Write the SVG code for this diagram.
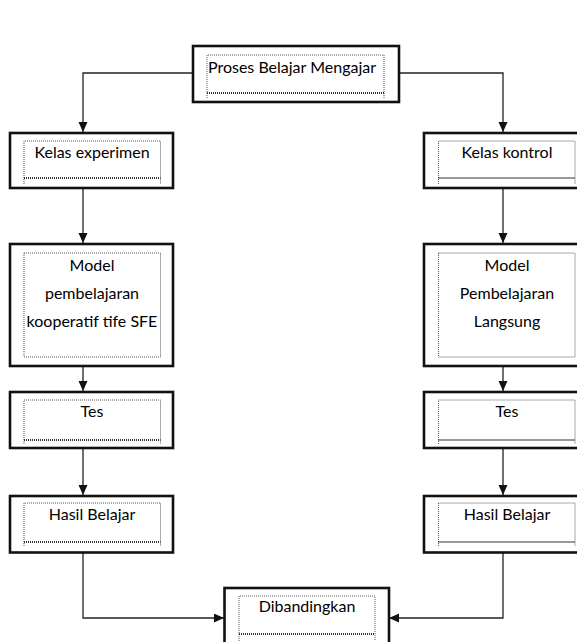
<svg xmlns="http://www.w3.org/2000/svg" width="577" height="642" viewBox="0 0 577 642">
<defs>
<marker id="arr" markerUnits="userSpaceOnUse" markerWidth="10" markerHeight="11" refX="10" refY="4.5" orient="auto">
<path d="M0,0 L10,4.5 L0,9 Z" fill="#111"/>
</marker>
<style>
.box{fill:#fff;stroke:#111;stroke-width:2.6}
.in{fill:none;stroke:#555;stroke-width:1;stroke-dasharray:1,1}
.inb{fill:none;stroke:#333;stroke-width:2;stroke-dasharray:1,1}
.t{font-family:Lato,"Liberation Sans",sans-serif;font-size:16px;fill:#000;text-anchor:middle}
.c{fill:none;stroke:#222;stroke-width:1.3}
</style>
</defs>
<rect width="577" height="642" fill="#fff"/>
<g id="connectors">
<path class="c" d="M193,73 H83 V132" marker-end="url(#arr)"/>
<path class="c" d="M399,73 H503 V132" marker-end="url(#arr)"/>
<path class="c" d="M83,188 V243" marker-end="url(#arr)"/>
<path class="c" d="M503,188 V243" marker-end="url(#arr)"/>
<path class="c" d="M83,366 V391" marker-end="url(#arr)"/>
<path class="c" d="M503,366 V391" marker-end="url(#arr)"/>
<path class="c" d="M83,448 V495" marker-end="url(#arr)"/>
<path class="c" d="M503,448 V495" marker-end="url(#arr)"/>
<path class="c" d="M83,553 V618 H224" marker-end="url(#arr)"/>
<path class="c" d="M503,553 V618 H389" marker-end="url(#arr)"/>
</g>
<g id="proses">
<rect class="box" x="193" y="46" width="206" height="56"/>
<path class="in" d="M207,98 V55 H384 V98"/>
<line class="inb" x1="207" y1="93" x2="384" y2="93"/>
<text class="t" x="292" y="73">Proses Belajar Mengajar</text>
</g>
<g id="kelas-experimen">
<rect class="box" x="10" y="133" width="163" height="55"/>
<path class="in" d="M24,184 V141 H160.5 V184"/>
<line class="inb" x1="24" y1="178" x2="160.5" y2="178"/>
<text class="t" x="92" y="158">Kelas experimen</text>
</g>
<g id="kelas-kontrol">
<rect class="box" x="424" y="133" width="163" height="55"/>
<path class="in" d="M438.5,184 V141 H575 V184"/>
<line class="inb" x1="438.5" y1="178" x2="575" y2="178"/>
<text class="t" x="507" y="158">Kelas kontrol</text>
</g>
<g id="model-kooperatif">
<rect class="box" x="10" y="244" width="163" height="122"/>
<rect class="in" x="24" y="253" width="136.5" height="104"/>
<text class="t" x="92" y="271">Model</text>
<text class="t" x="92" y="299">pembelajaran</text>
<text class="t" x="92" y="327">kooperatif tife SFE</text>
</g>
<g id="model-langsung">
<rect class="box" x="424" y="244" width="163" height="122"/>
<rect class="in" x="438.5" y="253" width="136.5" height="104"/>
<text class="t" x="507" y="271">Model</text>
<text class="t" x="507" y="299">Pembelajaran</text>
<text class="t" x="507" y="327">Langsung</text>
</g>
<g id="tes-kiri">
<rect class="box" x="10" y="392" width="163" height="56"/>
<path class="in" d="M24,444 V400 H160.5 V444"/>
<line class="inb" x1="24" y1="440" x2="160.5" y2="440"/>
<text class="t" x="92" y="417">Tes</text>
</g>
<g id="tes-kanan">
<rect class="box" x="424" y="392" width="163" height="56"/>
<path class="in" d="M438.5,444 V400 H575 V444"/>
<line class="inb" x1="438.5" y1="440" x2="575" y2="440"/>
<text class="t" x="507" y="417">Tes</text>
</g>
<g id="hasil-kiri">
<rect class="box" x="10" y="496" width="163" height="56.5"/>
<path class="in" d="M24,546 V503 H160.5 V546"/>
<line class="inb" x1="24" y1="542" x2="160.5" y2="542"/>
<text class="t" x="92" y="520">Hasil Belajar</text>
</g>
<g id="hasil-kanan">
<rect class="box" x="424" y="496" width="163" height="56.5"/>
<path class="in" d="M438.5,546 V503 H575 V546"/>
<line class="inb" x1="438.5" y1="542" x2="575" y2="542"/>
<text class="t" x="507" y="520">Hasil Belajar</text>
</g>
<g id="dibandingkan">
<rect class="box" x="224.5" y="588" width="164.5" height="58"/>
<path class="in" d="M239,641 V596 H375 V641"/>
<line class="inb" x1="239" y1="634" x2="375" y2="634"/>
<text class="t" x="307" y="612">Dibandingkan</text>
</g>
</svg>
